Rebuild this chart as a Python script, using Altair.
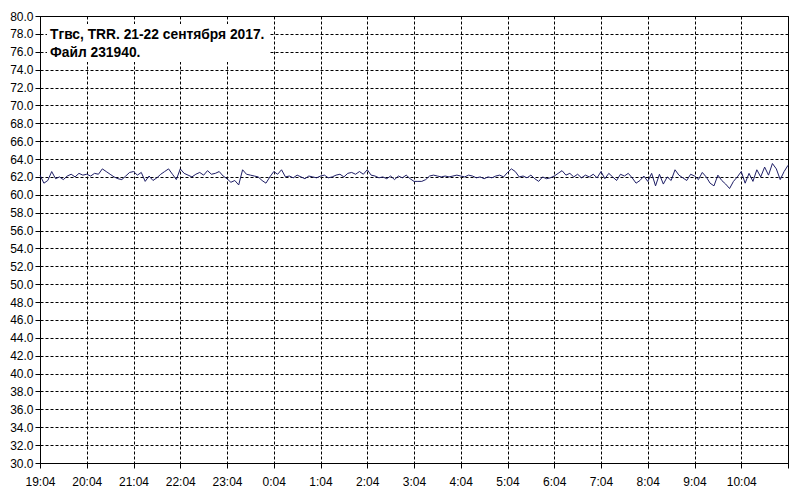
import altair as alt
import pandas as pd

# hourly tick labels (x axis), last tick (11:04) has no label
hour_labels = ["19:04", "20:04", "21:04", "22:04", "23:04", "0:04", "1:04", "2:04",
               "3:04", "4:04", "5:04", "6:04", "7:04", "8:04", "9:04", "10:04", ""]

step_min = 5  # sampling step of the series, minutes

h0 = [62.2, 61.3, 61.6, 62.6, 61.8, 62.0, 61.7, 62.1, 62.3, 62.0, 62.4, 62.2]
h1 = [62.3, 62.1, 62.4, 62.3, 62.9, 62.6, 62.3, 62.0, 61.8, 61.7, 62.1, 62.5]
h2 = [62.6, 62.2, 62.5, 61.5, 62.1, 61.6, 61.9, 62.3, 62.6, 62.9, 62.3, 61.7]
h3 = [62.9, 62.4, 62.2, 62.0, 62.3, 62.5, 62.2, 62.7, 62.3, 62.4, 62.6, 62.1]
h4 = [61.8, 61.4, 61.6, 61.1, 62.8, 62.3, 62.2, 62.1, 62.0, 61.6, 61.3, 62.0]
h5 = [62.6, 62.3, 62.8, 62.0, 62.1, 61.9, 62.2, 62.0, 61.8, 62.1, 62.0, 61.9]
h6 = [62.1, 62.2, 61.9, 62.0, 62.2, 62.3, 62.0, 62.4, 62.5, 62.3, 62.6, 62.3]
h7 = [62.8, 62.2, 62.1, 61.9, 62.0, 61.8, 62.1, 61.7, 62.1, 61.9, 62.2, 61.8]
h8 = [61.5, 61.5, 61.5, 61.7, 62.1, 62.2, 62.1, 62.0, 62.1, 62.0, 62.1, 62.2]
h9 = [62.1, 62.0, 62.2, 62.1, 61.9, 62.0, 61.8, 62.0, 61.9, 62.1, 62.2, 62.0]
h10 = [62.5, 62.9, 62.6, 62.0, 62.1, 61.9, 62.2, 61.8, 61.5, 62.0, 61.8, 61.9]
h11 = [62.1, 62.4, 62.7, 62.2, 62.4, 62.0, 62.3, 61.9, 62.2, 62.0, 62.3, 61.9]
h12 = [62.6, 61.8, 62.4, 62.0, 61.6, 62.3, 62.1, 62.4, 61.9, 61.3, 61.6, 62.1]
h13 = [61.5, 62.4, 61.0, 62.3, 61.2, 62.0, 61.6, 62.8, 62.2, 61.9, 61.6, 62.3]
h14 = [62.1, 61.7, 62.5, 62.0, 61.3, 61.0, 62.2, 61.6, 61.2, 60.7, 61.5, 62.0]
h15 = [62.6, 61.3, 62.4, 61.5, 62.8, 62.0, 63.1, 62.2, 63.5, 62.9, 61.7, 62.6, 63.3]

temps = h0 + h1 + h2 + h3 + h4 + h5 + h6 + h7 + h8 + h9 + h10 + h11 + h12 + h13 + h14 + h15
minutes = [i * step_min for i in range(len(temps))]

title_line1 = "Tгвс, TRR. 21-22 сентября 2017."
title_line2 = "Файл 231940."

df = pd.DataFrame({"m": minutes, "t": temps})

label_arr = "[" + ",".join("'" + s + "'" for s in hour_labels) + "]"
label_expr = label_arr + "[round(datum.value/60)]"

FONT = "Liberation Sans"

line = alt.Chart(df).mark_line(color="#1e1e66", strokeWidth=1).encode(
    x=alt.X("m:Q", scale=alt.Scale(domain=[0, 960], nice=False, zero=False),
            axis=alt.Axis(values=list(range(0, 961, 60)), labelExpr=label_expr,
                          title=None, grid=True, labelFlush=False)),
    y=alt.Y("t:Q", scale=alt.Scale(domain=[30, 80], nice=False, zero=False),
            axis=alt.Axis(values=list(range(30, 81, 2)), format=".1f",
                          title=None, grid=True)),
)

box = alt.Chart(pd.DataFrame({"k": [0]})).mark_rect(color="white").encode(
    x=alt.value(7), x2=alt.value(230), y=alt.value(8), y2=alt.value(46)
)

txt1 = alt.Chart(pd.DataFrame({"s": [title_line1]})).mark_text(
    align="left", baseline="middle", font=FONT, fontSize=13.8, fontWeight="bold", color="black"
).encode(text="s:N", x=alt.value(10), y=alt.value(18.5))

txt2 = alt.Chart(pd.DataFrame({"s": [title_line2]})).mark_text(
    align="left", baseline="middle", font=FONT, fontSize=13.8, fontWeight="bold", color="black"
).encode(text="s:N", x=alt.value(10), y=alt.value(36.5))

chart = alt.layer(box, line, txt1, txt2).properties(
    width=748, height=447,
    autosize=alt.AutoSizeParams(type="none"),
    padding={"left": 32, "top": 8, "right": 4, "bottom": 24},
    background="white",
).configure_view(
    stroke="black", strokeWidth=1
).configure_axis(
    domainColor="black", domainWidth=1,
    tickColor="black", tickSize=5, tickWidth=1,
    gridColor="black", gridDash=[3, 2], gridWidth=1, gridOpacity=1,
    labelFont=FONT, labelFontSize=12, labelColor="black",
).configure_axisY(
    labelPadding=2
).configure_axisX(
    labelPadding=8
)

chart.save("out.html", embed_options={"renderer": "svg", "actions": False})
